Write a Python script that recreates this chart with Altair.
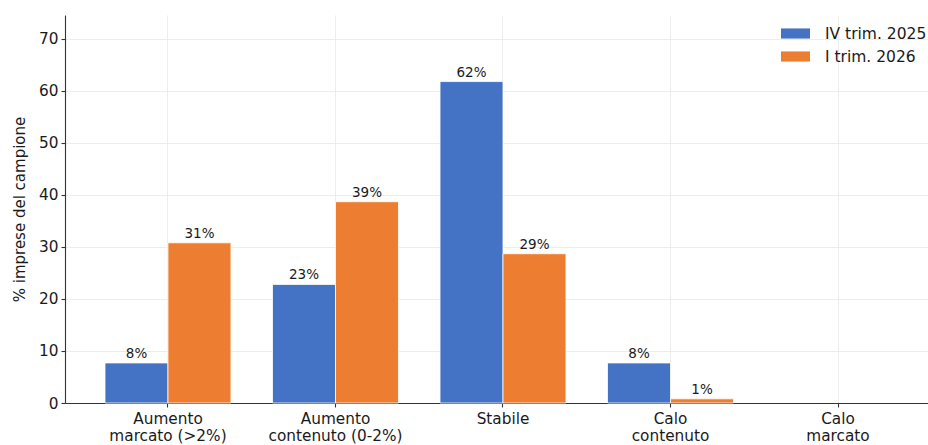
import altair as alt
import pandas as pd

# Categorie di variazione attesa (a capo per l'etichetta sull'asse)
categorie = [
    "Aumento\nmarcato (>2%)",
    "Aumento\ncontenuto (0-2%)",
    "Stabile",
    "Calo\ncontenuto",
    "Calo\nmarcato",
]
serie = ["IV trim. 2025", "I trim. 2026"]

# Quota di imprese del campione (%)
iv_trim_2025 = [7.7, 22.8, 61.8, 7.7, 0.0]
i_trim_2026 = [30.8, 38.7, 28.7, 0.8, 0.0]

colori = ["#4472C4", "#ED7D31"]
FONT = "DejaVu Sans"

righe = []
for nome, valori in zip(serie, [iv_trim_2025, i_trim_2026]):
    for cat, v in zip(categorie, valori):
        righe.append({"categoria": cat, "serie": nome, "valore": v})
df = pd.DataFrame(righe)

base = alt.Chart(df).encode(
    x=alt.X(
        "categoria:N",
        sort=categorie,
        scale=alt.Scale(domain=categorie, paddingInner=0.248, paddingOuter=0.2, align=0.597),
        axis=alt.Axis(
            title=None,
            labelAngle=0,
            labelExpr="split(datum.label, '\\n')",
            labelLineHeight=17,
            labelFontSize=15.3,
            labelPadding=4,
            tickSize=4,
            bandPosition=0.5,
            grid=True,
        ),
    ),
    xOffset=alt.XOffset("serie:N", sort=serie, scale=alt.Scale(paddingInner=0, paddingOuter=0)),
    y=alt.Y(
        "valore:Q",
        scale=alt.Scale(domain=[0, 74.6], nice=False),
        axis=alt.Axis(
            title="% imprese del campione",
            values=[0, 10, 20, 30, 40, 50, 60, 70],
            labelFontSize=15.3,
            labelPadding=3,
            tickSize=4,
            titleFontSize=15,
            titleFontWeight="normal",
            titlePadding=11,
            grid=True,
        ),
    ),
)

# Le barre a valore zero non hanno bordo, per non coprire l'asse
barre = base.mark_bar(stroke="white").encode(
    strokeWidth=alt.condition("datum.valore > 0", alt.value(0.8), alt.value(0)),
    color=alt.Color(
        "serie:N",
        sort=serie,
        scale=alt.Scale(domain=serie, range=colori),
        legend=alt.Legend(
            title=None,
            orient="none",
            legendX=716,
            legendY=4,
            symbolType="M-1,-0.35L1,-0.35L1,0.35L-1,0.35Z",
            symbolSize=841,
            symbolStrokeWidth=0,
            labelFontSize=15.5,
            labelOffset=15,
            rowPadding=-7,
        ),
    ),
)

etichette = (
    base.transform_filter("datum.valore > 0")
    .transform_calculate(etichetta="format(datum.valore, '.0f') + '%'")
    .mark_text(baseline="bottom", dy=-2, fontSize=13.5, color="#1a1a1a", font=FONT)
    .encode(text="etichetta:N")
)

chart = (
    alt.layer(barre, etichette)
    .properties(
        width=863,
        height=388,
        padding={"left": 65, "top": 15, "right": 0, "bottom": 42},
        autosize=alt.AutoSizeParams(type="none"),
    )
    .configure_view(stroke=None)
    .configure_axis(
        labelFont=FONT,
        titleFont=FONT,
        labelColor="#1a1a1a",
        titleColor="#1a1a1a",
        domainColor="#333333",
        domainWidth=1.1,
        tickColor="#333333",
        tickWidth=1.1,
        gridColor="#e8e8e8",
        gridWidth=0.8,
    )
    .configure_legend(labelFont=FONT, labelColor="#1a1a1a")
)

chart.save("out.html", embed_options={"renderer": "svg", "actions": False})
